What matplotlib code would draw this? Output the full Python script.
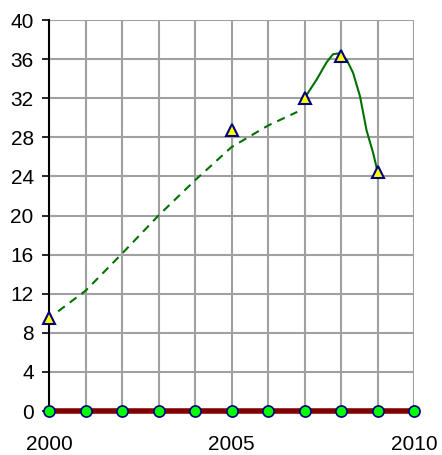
import numpy as np
import matplotlib.pyplot as plt

plt.rcParams['font.family'] = ['Liberation Sans', 'DejaVu Sans']

# datos
years = np.arange(2000, 2011)
base = np.zeros(len(years))

tri_x = [2000, 2005, 2007, 2008, 2009]
tri_y = [9.5, 28.7, 32.0, 36.3, 24.5]

trend_x = [2000.25, 2001, 2002, 2003, 2004, 2005, 2006, 2006.8]
trend_y = [10.2, 12.3, 16.1, 20.0, 23.6, 27.0, 29.2, 30.6]

fit_x = [2007.0, 2007.33, 2007.61, 2007.78, 2007.97, 2008.16, 2008.33, 2008.52, 2008.7, 2008.88, 2009.0]
fit_y = [32.0, 33.9, 35.7, 36.5, 36.6, 35.9, 34.6, 32.2, 28.7, 26.4, 24.5]

fig = plt.figure(figsize=(4.42, 4.55), dpi=100)
ax = fig.add_axes([0.1109, 0.0967, 0.8258, 0.8593])

ax.set_xlim(2000, 2010)
ax.set_ylim(0, 40)
ax.set_xticks(years)
ax.set_xticklabels(['2000', '', '', '', '', '2005', '', '', '', '', '2010'])
ax.set_yticks(np.arange(0, 41, 4))
ax.grid(True, color='#a0a0a0', lw=1.5)
ax.set_axisbelow(True)

for s in ['top', 'right', 'bottom']:
    ax.spines[s].set_visible(False)
ax.spines['left'].set_linewidth(1.5)
ax.spines['left'].set_zorder(2)

ax.tick_params(axis='y', direction='out', length=5, width=1.2, labelsize=15, pad=6)
ax.tick_params(axis='x', length=0, labelsize=15, pad=17)

ax.plot(trend_x, trend_y, color='#007000', lw=1.5, ls=(0, (4, 3)), zorder=3)
ax.plot(fit_x, fit_y, color='#007000', lw=1.5, zorder=3)

ax.plot(years, base, color='#800000', lw=4, zorder=4, clip_on=False,
        marker='o', ms=8, mfc='#00ff00', mec='#000080', mew=1.2)
ax.plot(tri_x, tri_y, ls='none', marker='^', ms=9, mfc='#ffff00', mec='#000080',
        mew=1.5, zorder=5, clip_on=False)

fig.savefig('out.png', dpi=100)
